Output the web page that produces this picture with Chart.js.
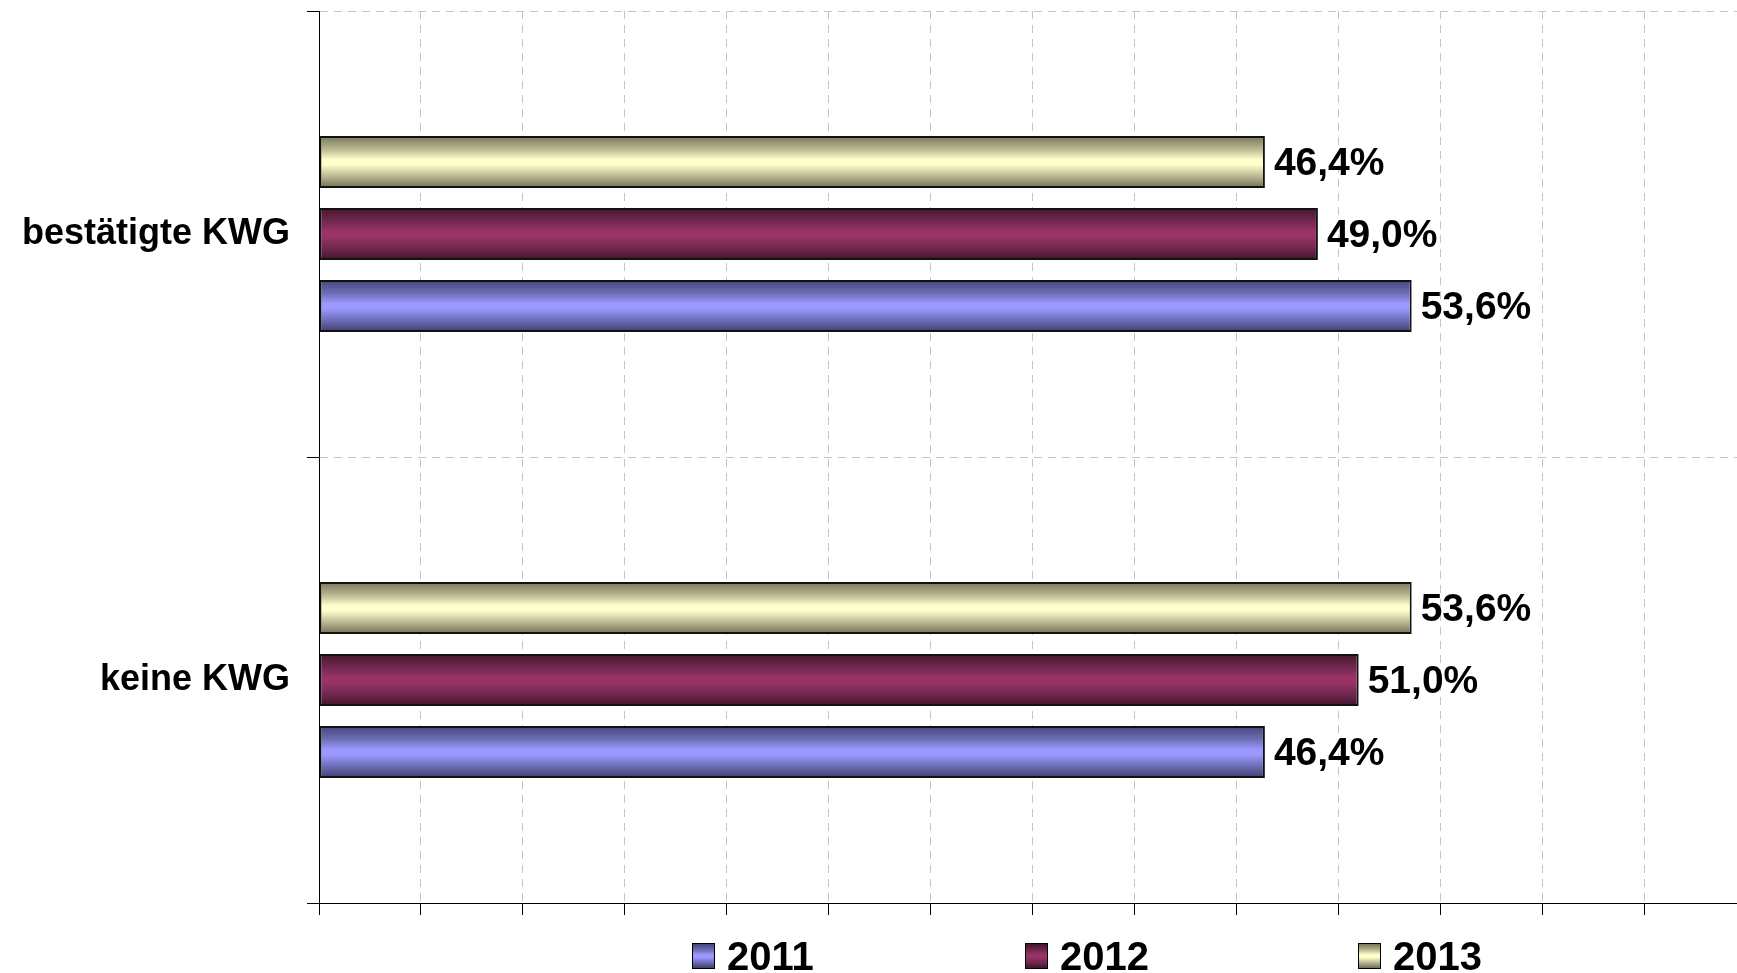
<!DOCTYPE html>
<html lang="de">
<head>
<meta charset="utf-8">
<title>KWG 2011-2013</title>
<script src="https://cdn.jsdelivr.net/npm/chart.js@4.4.1/dist/chart.umd.min.js"></script>
<style>
  html, body { margin: 0; padding: 0; background: #fff; overflow: hidden; }
  body { width: 1737px; height: 973px; position: relative; font-family: "Liberation Sans", Arial, sans-serif; }
  #chart-box { position: absolute; left: 0; top: 0; width: 1746px; height: 973px; }
  .legend-swatch { position: absolute; top: 943px; width: 21px; height: 24px; border: 1px solid #000; }
  .legend-text { position: absolute; top: 936px; font-weight: bold; font-size: 40px; line-height: 40px; color: #000; white-space: nowrap; }
</style>
</head>
<body>
<div id="chart-box"><canvas id="kwg-chart"></canvas></div>
<div id="legend"></div>

<script>
// Data
const categories = ['bestätigte KWG', 'keine KWG'];
const years = ['2011', '2012', '2013'];
const values2011 = [53.6, 46.4];
const values2012 = [49.0, 51.0];
const values2013 = [46.4, 53.6];
const xTicksMax = 70;
const xTickStep = 5;

// Bar look: dark edge -> light centre -> dark edge
const shades = {
  '2011': ['#45457a', '#6c6cb4', '#9999ff', '#9999ff', '#6868ac', '#3e3e70'],
  '2012': ['#45162c', '#70284f', '#993366', '#993366', '#6c264c', '#401428'],
  '2013': ['#76765a', '#b8b892', '#ffffcc', '#ffffcc', '#b0b08c', '#6e6e54']
};
const stopPos = [0, 0.25, 0.45, 0.55, 0.8, 1];

const CAT_PCT = 0.484;
const BAR_PCT = 0.722;
const FONT = '"Liberation Sans", Arial, sans-serif';

function fillStops(grad, year) {
  shades[year].forEach((c, i) => grad.addColorStop(stopPos[i], c));
  return grad;
}

// gradient follows each bar (position taken from the y scale)
function barGradient(year) {
  return (ctx) => {
    const chart = ctx.chart;
    if (!chart.chartArea || ctx.type !== 'data' || !chart.scales.y) return shades[year][2];
    const yScale = chart.scales.y;
    const n = chart.data.datasets.length;
    const band = Math.abs(yScale.getPixelForValue(1) - yScale.getPixelForValue(0));
    const chunk = band * CAT_PCT / n;
    const centre = yScale.getPixelForValue(ctx.dataIndex) - band * CAT_PCT / 2 + chunk * ctx.datasetIndex + chunk / 2;
    const half = chunk * BAR_PCT / 2;
    const g = chart.ctx.createLinearGradient(0, centre - half, 0, centre + half);
    return fillStops(g, year);
  };
}

function makeDataset(year, values) {
  return {
    label: year,
    data: values,
    backgroundColor: barGradient(year),
    borderColor: '#111',
    borderWidth: 2,
    borderSkipped: false,
    categoryPercentage: CAT_PCT,
    barPercentage: BAR_PCT
  };
}

// value labels like "46,4%"
const valueLabels = {
  id: 'valueLabels',
  afterDatasetsDraw(chart) {
    const ctx = chart.ctx;
    ctx.save();
    ctx.font = 'bold 39px ' + FONT;
    ctx.fillStyle = '#000';
    ctx.textAlign = 'left';
    ctx.textBaseline = 'middle';
    chart.data.datasets.forEach((ds, di) => {
      chart.getDatasetMeta(di).data.forEach((bar, i) => {
        const txt = ds.data[i].toFixed(1).replace('.', ',') + '%';
        ctx.fillText(txt, bar.x + 9, bar.y + 2);
      });
    });
    ctx.restore();
  }
};

const gridStyle = {
  color: '#c4c4c4',
  lineWidth: 1,
  tickColor: '#000',
  tickLength: 12,
  tickWidth: 1
};

const chart = new Chart(document.getElementById('kwg-chart'), {
  type: 'bar',
  data: {
    labels: categories,
    // top to bottom inside a group: 2013, 2012, 2011
    datasets: [
      makeDataset('2013', values2013),
      makeDataset('2012', values2012),
      makeDataset('2011', values2011)
    ]
  },
  options: {
    indexAxis: 'y',
    responsive: true,
    maintainAspectRatio: false,
    animation: false,
    layout: { padding: { top: 11, left: 0, right: 0, bottom: 0 } },
    plugins: {
      legend: { display: false },
      tooltip: { enabled: false }
    },
    scales: {
      x: {
        min: 0,
        max: xTicksMax,
        ticks: { display: false, stepSize: xTickStep },
        grid: gridStyle,
        border: { color: '#000', width: 1, dash: [8, 6] },
        afterFit: (scale) => { scale.height = 70; scale.paddingLeft = 0; scale.paddingRight = 0; }
      },
      y: {
        ticks: {
          color: '#000',
          padding: 17,
          font: { family: FONT, size: 36, weight: 'bold' }
        },
        grid: gridStyle,
        border: { color: '#000', width: 1, dash: [8, 6] },
        afterFit: (scale) => { scale.width = 319; scale.paddingTop = 0; scale.paddingBottom = 0; }
      }
    }
  },
  plugins: [valueLabels]
});

// legend below the plot, built from the same series names
const legendLeft = [692, 1025, 1358];
const legendBox = document.getElementById('legend');
years.forEach((year, i) => {
  const sw = document.createElement('div');
  sw.className = 'legend-swatch';
  sw.style.left = legendLeft[i] + 'px';
  sw.style.background = 'linear-gradient(to bottom, ' +
    shades[year].map((c, k) => c + ' ' + Math.round(stopPos[k] * 100) + '%').join(', ') + ')';
  const tx = document.createElement('div');
  tx.className = 'legend-text';
  tx.style.left = (legendLeft[i] + 35) + 'px';
  tx.textContent = year;
  legendBox.appendChild(sw);
  legendBox.appendChild(tx);
});
</script>
</body>
</html>
